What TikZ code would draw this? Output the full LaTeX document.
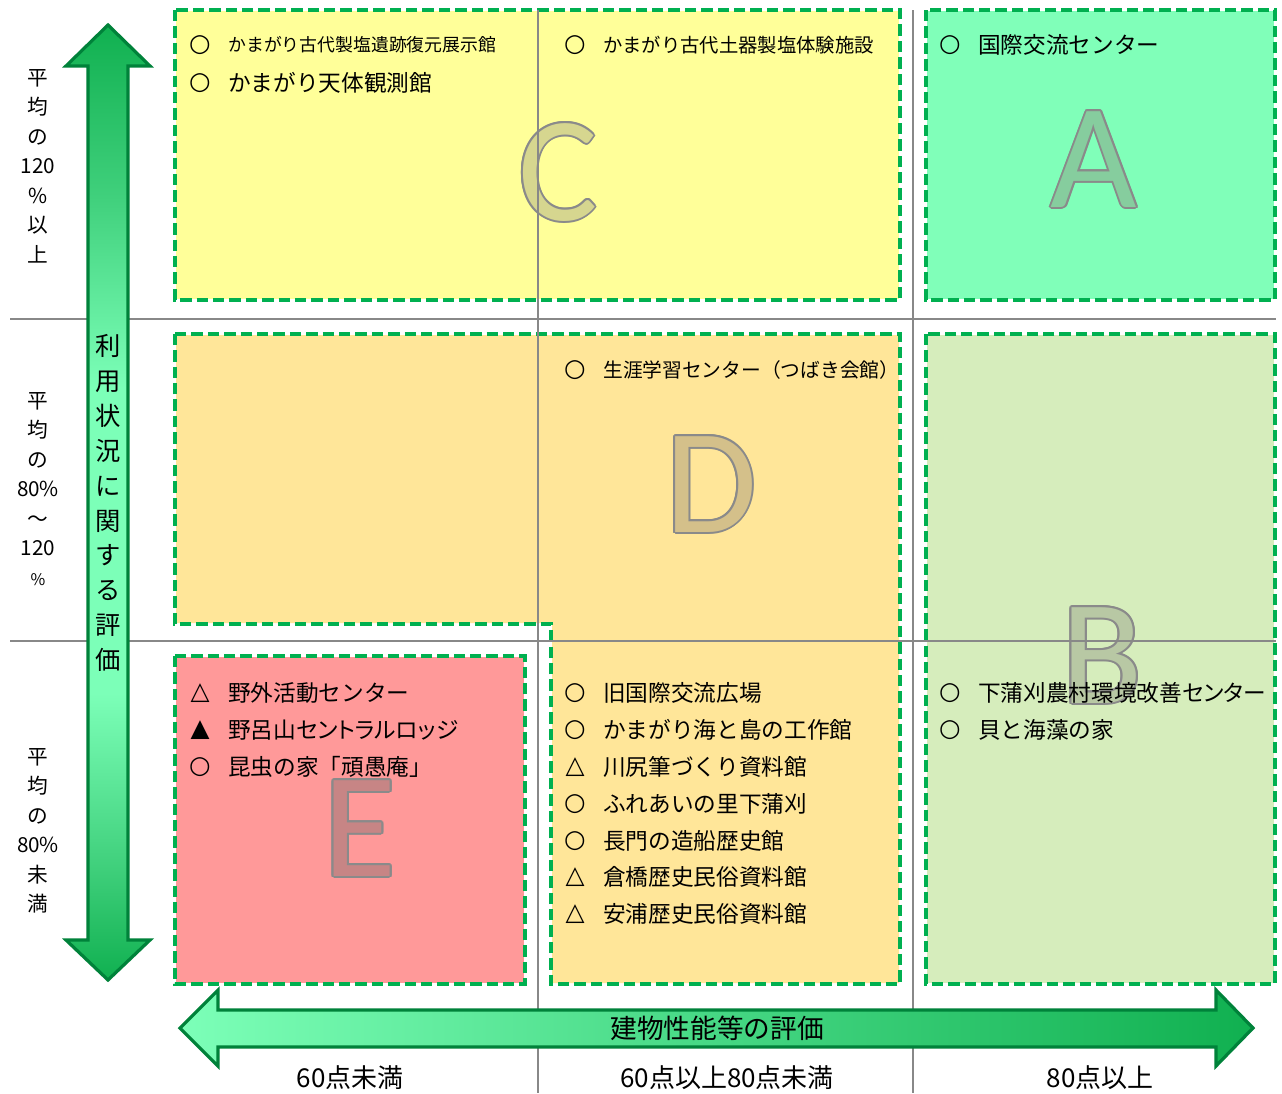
\documentclass[tikz,border=0pt]{standalone}
\usepackage{fontspec}
\setmainfont{Noto Sans CJK JP}
\newfontfamily\pfont{Noto Sans CJK JP}[RawFeature=+palt]
\newfontfamily\letterfont{Carlito}
\newfontfamily\markfont{DejaVu Sans Bold}
\usetikzlibrary{calc}
\definecolor{dashgreen}{HTML}{00B050}
\definecolor{zoneC}{HTML}{FFFF99}
\definecolor{zoneA}{HTML}{80FFB9}
\definecolor{zoneD}{HTML}{FFE699}
\definecolor{zoneE}{HTML}{FF9999}
\definecolor{zoneB}{HTML}{D6EDBC}
\definecolor{gridgray}{HTML}{888888}
\definecolor{arrdark}{HTML}{10B050}
\definecolor{arrmid}{HTML}{40D07C}
\definecolor{arrlight}{HTML}{7CFFB8}
\definecolor{arrborder}{HTML}{00823A}
\definecolor{letteroutline}{HTML}{8A8A8A}
\definecolor{fillC}{HTML}{D6D68F}
\definecolor{fillA}{HTML}{86CD9E}
\definecolor{fillD}{HTML}{D4C08A}
\definecolor{fillB}{HTML}{B8C8A4}
\definecolor{fillE}{HTML}{C78585}
\pgfdeclareverticalshading{vgrad}{100bp}{color(0bp)=(arrdark); color(25bp)=(arrdark); color(31bp)=(arrmid); color(40bp)=(arrlight); color(56bp)=(arrlight); color(66bp)=(arrmid); color(75bp)=(arrdark); color(100bp)=(arrdark)}
\tikzset{
  zoneborder/.style={draw=dashgreen, line width=2.6pt, dash pattern=on 8.5pt off 3.8pt},
  gridline/.style={draw=gridgray, line width=1.6pt},
  bigl/.style={font=\letterfont\fontsize{112}{112}\selectfont, inner sep=0pt, anchor=base},
  mk/.style={inner sep=0pt, font=\markfont\fontsize{18.5}{18.5}\selectfont},
  itm/.style={anchor=west, inner sep=0pt, font=\fontsize{17}{17}\selectfont},
  itmp/.style={anchor=west, inner sep=0pt, font=\pfont\fontsize{17}{17}\selectfont},
  itmsmall/.style={anchor=west, inner sep=0pt, font=\fontsize{13.4}{13.4}\selectfont},
  itmmid/.style={anchor=west, inner sep=0pt, font=\fontsize{14.8}{14.8}\selectfont},
  sidelabel/.style={inner sep=0pt, align=center, font=\fontsize{15.5}{22.1}\selectfont},
  bottomlabel/.style={inner sep=0pt, font=\fontsize{19.5}{19.5}\selectfont},
  arrowbody/.style={draw=arrborder, line width=2.4pt, line join=miter},
}
\newcommand\bigletter[5]{%
  \foreach \a [count=\k] in {0,30,...,330}
    \node[bigl, text=letteroutline] (#1o\k) at ([shift={(\a:1.5pt)}]#2,#3) {#4};
  \node[bigl, text=#5] (#1) at (#2,#3) {#4};
}
\begin{document}
\begin{tikzpicture}[x=0.75pt,y=-0.75pt]
\useasboundingbox (0,0) rectangle (1282,1093);
\fill[white] (0,0) rectangle (1282,1093);

% zone fills
\fill[zoneC] (176,11) rectangle (899,299);
\fill[zoneA] (927,11) rectangle (1274,299);
\fill[zoneD] (176,335) -- (899,335) -- (899,983) -- (552,983) -- (552,623) -- (176,623) -- cycle;
\fill[zoneE] (176,657) rectangle (524,983);
\fill[zoneB] (927,335) rectangle (1274,983);

% zone borders
\draw[zoneborder] (175,10) rectangle (900,300);
\draw[zoneborder] (926,10) rectangle (1275,300);
\draw[zoneborder] (175,334) -- (900,334) -- (900,984) -- (551,984) -- (551,624) -- (175,624) -- cycle;
\draw[zoneborder] (175,656) rectangle (525,984);
\draw[zoneborder] (926,334) rectangle (1275,984);

% big letters
\bigletter{letC}{558}{220}{C}{fillC}
\bigletter{letA}{1094}{207}{A}{fillA}
\bigletter{letD}{711}{532}{D}{fillD}
\bigletter{letB}{1102}{703}{B}{fillB}
\bigletter{letE}{360}{876}{E}{fillE}

% grid lines
\coordinate (h1a) at (10,319); \coordinate (h1b) at (1276,319);
\coordinate (h2a) at (10,641); \coordinate (h2b) at (1276,641);
\coordinate (v1a) at (538,10); \coordinate (v1b) at (538,1093);
\coordinate (v2a) at (913,10); \coordinate (v2b) at (913,1093);
\draw[gridline] (h1a) -- (h1b);
\draw[gridline] (h2a) -- (h2b);
\draw[gridline] (v1a) -- (v1b);
\draw[gridline] (v2a) -- (v2b);

% zone C items
\node[mk] (c1m) at (200,45) {○};
\node[itmsmall] (c1t) at (228,45) {かまがり古代製塩遺跡復元展示館};
\node[mk] (c2m) at (200,83) {○};
\node[itm] (c2t) at (228,83) {かまがり天体観測館};
\node[mk] (c3m) at (575,45) {○};
\node[itmsmall, font=\fontsize{14.5}{14.5}\selectfont] (c3t) at (603,45) {かまがり古代土器製塩体験施設};

% zone A items
\node[mk] (a1m) at (950,45) {○};
\node[itm] (a1t) at (978,45) {国際交流センター};

% zone D upper
\node[mk] (d0m) at (575,370) {○};
\node[itmmid] (d0t) at (603,370) {生涯学習センター（つばき会館）};

% zone E items
\node[mk] (e1m) at (200,693) {△};
\node[itm] (e1t) at (228,693) {野外活動センター};
\node[mk] (e2m) at (200,730) {▲};
\node[itmp] (e2t) at (228,730) {野呂山セントラルロッジ};
\node[mk] (e3m) at (200,767) {○};
\node[itm] (e3t) at (228,767) {昆虫の家「頑愚庵」};

% zone D lower items
\node[mk] (d1m) at (575,693) {○};
\node[itm] (d1t) at (603,693) {旧国際交流広場};
\node[mk] (d2m) at (575,730) {○};
\node[itm] (d2t) at (603,730) {かまがり海と島の工作館};
\node[mk] (d3m) at (575,767) {△};
\node[itm] (d3t) at (603,767) {川尻筆づくり資料館};
\node[mk] (d4m) at (575,804) {○};
\node[itm] (d4t) at (603,804) {ふれあいの里下蒲刈};
\node[mk] (d5m) at (575,841) {○};
\node[itm] (d5t) at (603,841) {長門の造船歴史館};
\node[mk] (d6m) at (575,877) {△};
\node[itm] (d6t) at (603,877) {倉橋歴史民俗資料館};
\node[mk] (d7m) at (575,914) {△};
\node[itm] (d7t) at (603,914) {安浦歴史民俗資料館};

% zone B items
\node[mk] (b1m) at (950,693) {○};
\node[itmp] (b1t) at (978,693) {下蒲刈農村環境改善センター};
\node[mk] (b2m) at (950,730) {○};
\node[itm] (b2t) at (978,730) {貝と海藻の家};

% vertical arrow
\path[arrowbody, shade, shading=vgrad]
  (108,25) -- (150,66) -- (128,66) -- (128,940) -- (150,940) -- (108,980)
  -- (66,940) -- (88,940) -- (88,66) -- (66,66) -- cycle;
\node[inner sep=0pt, align=center, font=\fontsize{19}{26.2}\selectfont] (vlabel) at (108,503)
  {利\\用\\状\\況\\に\\関\\す\\る\\評\\価};

% horizontal arrow
\path[arrowbody, left color=arrlight, right color=arrdark]
  (180,1028) -- (218,990) -- (218,1010) -- (1216,1010) -- (1216,990) -- (1253,1028)
  -- (1216,1066) -- (1216,1047) -- (218,1047) -- (218,1066) -- cycle;
\node[inner sep=0pt, font=\fontsize{20}{20}\selectfont] (hlabel) at (717,1028) {建物性能等の評価};

% side labels
\node[sidelabel] (s1) at (38,166) {平\\均\\の\\120\\\%\\以\\上};
\node[sidelabel] (s2) at (38,489) {平\\均\\の\\80\%\\～\\120\\{\fontsize{12}{22.1}\selectfont\%}};
\node[sidelabel] (s3) at (38,831) {平\\均\\の\\80\%\\未\\満};

% bottom labels
\node[bottomlabel] (x1) at (350,1078) {60点未満};
\node[bottomlabel] (x2) at (727,1078) {60点以上80点未満};
\node[bottomlabel] (x3) at (1100,1078) {80点以上};
\end{tikzpicture}
\end{document}
